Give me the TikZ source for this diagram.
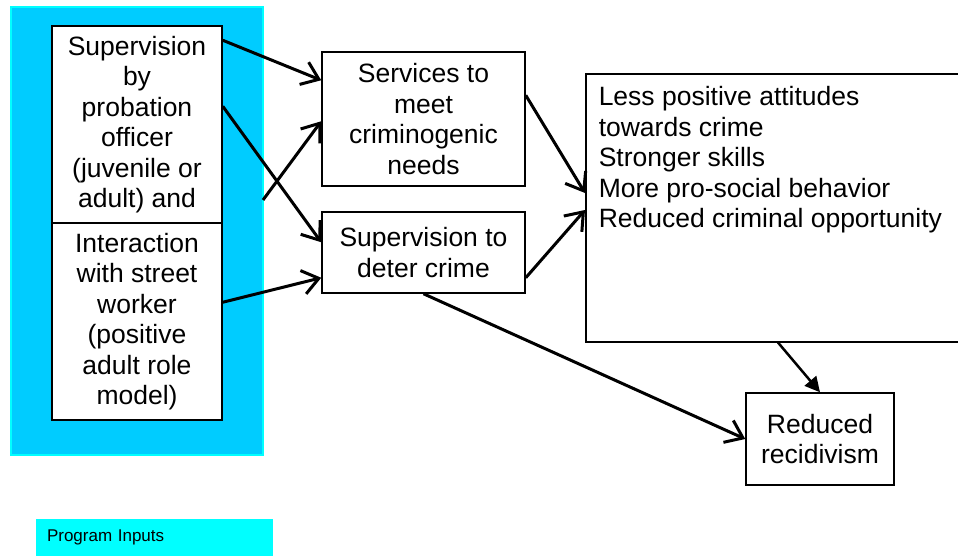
\documentclass[tikz,border=0pt]{standalone}
\usepackage{fontspec}
\setmainfont{Liberation Sans}
\usetikzlibrary{arrows.meta}

\definecolor{inputblue}{RGB}{0,204,255}
\definecolor{inputcyan}{RGB}{0,255,255}

\tikzset{
    box/.style={draw, line width=1.5pt, fill=white, align=center, inner sep=0pt,
        font=\fontsize{26.5}{30.5}\selectfont},
    link/.style={line width=3pt, -{Straight Barb[length=16pt,width=24pt]}},
    fatlink/.style={line width=2.5pt, -{Triangle[length=15pt,width=15pt]}}
}

\begin{document}
\begin{tikzpicture}[x=1pt, y=-1pt]
    \useasboundingbox (0,0) rectangle (958,555);

    % program inputs
    \node [draw=inputcyan, fill=inputblue, line width=1.5pt, minimum width=252pt,
        minimum height=448pt] (inputs) at (137,231) {};
    \node [box, minimum width=170pt, minimum height=197pt] (sup) at (137,124.5)%
{Supervision\\by\\probation\\officer\\(juvenile or\\adult) and};
    \node [box, minimum width=170pt, minimum height=197pt] (inter) at (137,321.5)%
{Interaction\\with street\\worker\\(positive\\adult role\\model)};
    \coordinate (cross) at (263,200);

    % activities
    \node [box, minimum width=203pt, minimum height=134pt] (services) at (423.5,119)%
{Services to\\meet\\criminogenic\\needs};
    \node [box, minimum width=203pt, minimum height=81pt] (deter) at (423.5,252.5)%
{Supervision to\\deter crime};

    % outcomes
    \node [draw, line width=1.5pt, anchor=north west, inner sep=13pt,
        font=\fontsize{26.5}{30.5}\selectfont] (outcomes) at (585,73)%
{\parbox[t][242pt][t]{356pt}{\raggedright
Less positive attitudes\\
towards crime\\
Stronger skills\\
More pro-social behavior\\
Reduced criminal opportunity}};
    \node [box, minimum width=148pt, minimum height=92pt] (recid) at (820,439)%
{Reduced\\recidivism};

    % arrows
    \draw [link] ([yshift=-15pt]sup.north east) -- ([yshift=-29pt]services.north west);
    \draw [link] ([yshift=-81pt]sup.north east) -- ([yshift=-31pt]deter.north west);
    \draw [link] (cross) -- ([yshift=-70pt]services.north west);
    \draw [link] ([yshift=-80pt]inter.north east) -- ([yshift=16pt]deter.south west);
    \draw [link] ([yshift=-44pt]services.north east) -- ([yshift=-120pt]outcomes.north west);
    \draw [link] ([yshift=16pt]deter.south east) -- ([yshift=-137pt]outcomes.north west);
    \draw [link] (deter.south) -- (recid.west);
    \draw [fatlink] ([xshift=193pt]outcomes.south west) -- (recid.north);

    % legend
    \node [fill=inputcyan, minimum width=237pt, minimum height=38pt, inner xsep=11pt,
        text width=215pt, align=left, font=\fontsize{17}{20}\selectfont] (legend)%
        at (154.5,537.5) {Program Inputs};
\end{tikzpicture}
\end{document}
